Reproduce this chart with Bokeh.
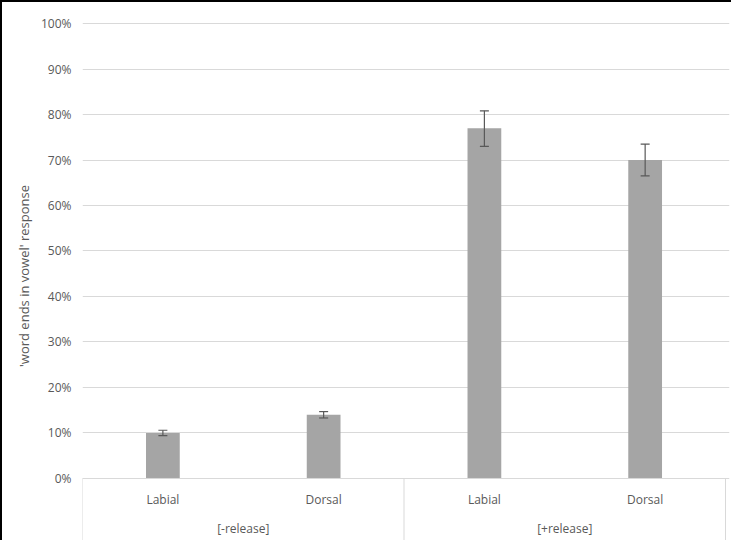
from bokeh.plotting import figure
from bokeh.models import ColumnDataSource, Whisker, FixedTicker, NumeralTickFormatter, Range1d, TeeHead
from bokeh.core.properties import value
from bokeh.embed import file_html
from bokeh.resources import INLINE

categories = ["Labial", "Dorsal", "Labial", "Dorsal"]
groups = ["[-release]", "[+release]"]
means = [0.10, 0.14, 0.77, 0.70]
err_low = [0.094, 0.133, 0.730, 0.665]
err_high = [0.106, 0.147, 0.808, 0.735]
yticks = [i / 10 for i in range(11)]

FONT = "Open Sans"
TXT = "#595959"

xs = [i + 0.5 for i in range(len(categories))]
src = ColumnDataSource(dict(x=xs, top=means, lo=err_low, hi=err_high, cat=categories))

p = figure(width=731, height=540, output_backend="svg", toolbar_location=None,
           x_range=Range1d(0, 4.0247), y_range=Range1d(-0.1407, 1.0308),
           min_border_top=7, min_border_bottom=0, min_border_right=4, min_border_left=80)
p.styles = {"border-top": "2px solid black", "border-left": "2px solid black"}
p.outline_line_color = None
p.xaxis.visible = False
p.xgrid.visible = False
p.yaxis.ticker = FixedTicker(ticks=yticks)
p.yaxis.formatter = NumeralTickFormatter(format="0%")
p.yaxis.axis_line_color = None
p.yaxis.major_tick_line_color = None
p.yaxis.minor_tick_line_color = None
p.yaxis.major_label_text_font = FONT
p.yaxis.major_label_text_font_size = "12px"
p.yaxis.major_label_text_color = TXT
p.yaxis.axis_label = "'word ends in vowel' response"
p.yaxis.axis_label_text_font = FONT
p.yaxis.axis_label_text_font_size = "13px"
p.yaxis.axis_label_text_font_style = "normal"
p.yaxis.axis_label_text_color = TXT
p.ygrid.ticker = FixedTicker(ticks=yticks)
p.ygrid.grid_line_color = "#d9d9d9"

p.vbar(x="x", top="top", bottom=0, width=0.21, source=src, fill_color="#a5a5a5", line_color=None)
w = Whisker(base="x", lower="lo", upper="hi", source=src, line_color="#595959", line_width=1.2,
            level="overlay")
w.upper_head = TeeHead(size=9, line_color="#595959", line_width=1.2)
w.lower_head = TeeHead(size=9, line_color="#595959", line_width=1.2)
p.add_layout(w)

# category axis box
n = len(categories)
p.segment(x0=[0, 0], y0=[0, 0], x1=[n, 0], y1=[0, -0.1407], line_color="#d9d9d9")
gx = [g * 2 for g in range(1, len(groups) + 1)]
p.segment(x0=gx, y0=[0] * len(gx), x1=gx, y1=[-0.1407] * len(gx), line_color="#d9d9d9")
p.text(x=xs, y=[-0.046] * n, text=categories, text_font=value(FONT), text_font_size="12px",
       text_color=TXT, text_align="center", text_baseline="middle")
p.text(x=[1 + 2 * g for g in range(len(groups))], y=[-0.11] * len(groups), text=groups,
       text_font=value(FONT), text_font_size="12px", text_color=TXT,
       text_align="center", text_baseline="middle")

open("out.html", "w").write(file_html(p, INLINE))
